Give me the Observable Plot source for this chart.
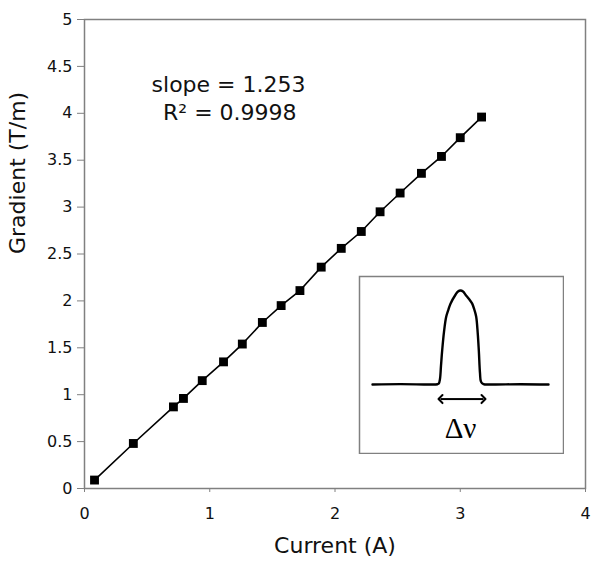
<!DOCTYPE html>
<html>
<head>
<meta charset="utf-8">
<script src="https://cdn.jsdelivr.net/npm/d3@7"></script>
<script src="https://cdn.jsdelivr.net/npm/@observablehq/plot@0.6"></script>
<style>
  html, body { margin: 0; padding: 0; background: #fff; }
  #wrap { position: relative; width: 600px; height: 573px; font-family: "DejaVu Sans", sans-serif; }
  #inset { position: absolute; left: 358px; top: 275px; }
  svg { background: #fff; }
</style>
</head>
<body>
<div id="wrap"><div id="main"></div><div id="inset"></div></div>
<script>
// Main data: current (A) vs gradient (T/m)
const current = [0.08, 0.39, 0.71, 0.79, 0.94, 1.11, 1.26, 1.42, 1.57, 1.72, 1.89, 2.05, 2.21, 2.36, 2.52, 2.69, 2.85, 3.00, 3.17];
const gradient = [0.09, 0.48, 0.87, 0.96, 1.15, 1.35, 1.54, 1.77, 1.95, 2.11, 2.36, 2.56, 2.74, 2.95, 3.15, 3.36, 3.54, 3.74, 3.96];

const xTicks = [0, 1, 2, 3, 4];
const yTicks = [0, 0.5, 1, 1.5, 2, 2.5, 3, 3.5, 4, 4.5, 5];
const xTitle = "Current (A)";
const yTitle = "Gradient (T/m)";
const annotLines = ["slope = 1.253", "R\u00B2 = 0.9998"];
const annotX = [1.15, 1.16];
const annotY = [4.3, 4.0];

// Inset: line shape (arbitrary frequency units vs normalized intensity)
const nu = [-8.8, -6, -3, -2.3, -2.17, -2.05, -1.95, -1.83, -1.65, -1.43, -1.2, -1.0, -0.5, -0.25, 0, 0.25, 0.5, 0.85, 1.17, 1.4, 1.57, 1.72, 1.83, 1.95, 2.05, 2.3, 3, 6, 8.8];
const intensity = [0, 0.004, 0, 0.003, 0.01, 0.06, 0.2, 0.365, 0.56, 0.72, 0.8, 0.86, 0.955, 0.99, 1.0, 0.99, 0.955, 0.91, 0.86, 0.79, 0.72, 0.55, 0.365, 0.12, 0.03, 0.004, 0, 0.003, 0];
const arrowNu = [-2.0, 2.3];
const arrowLevel = -0.155;
const widthLabel = "\u0394\u03BD";
const widthLabelLevel = -0.47;

const pts = current.map((c, i) => ({x: c, y: gradient[i]}));
const gray = "#808080";

const main = Plot.plot({
  width: 600,
  height: 573,
  marginLeft: 84,
  marginRight: 15,
  marginTop: 19,
  marginBottom: 85,
  style: {fontFamily: "DejaVu Sans, sans-serif", background: "#fff"},
  x: {domain: [0, 4]},
  y: {domain: [0, 5]},
  marks: [
    Plot.axisY({ticks: yTicks, tickFormat: d => String(d), tickSize: 7, tickPadding: 5, fontSize: 16, stroke: gray, fill: "#111", label: null}),
    Plot.axisX({ticks: xTicks, tickFormat: d => String(d), tickSize: 4, tickPadding: 15, fontSize: 16, stroke: gray, fill: "#111", label: null}),
    Plot.frame({stroke: gray, strokeWidth: 1.5}),
    Plot.line(pts, {x: "x", y: "y", stroke: "black", strokeWidth: 1.6}),
    Plot.dot(pts, {x: "x", y: "y", symbol: "square", r: 5, fill: "black", stroke: null}),
    Plot.text(annotLines, {x: (d, i) => annotX[i], y: (d, i) => annotY[i], text: d => d, fontSize: 22, fill: "#111", textAnchor: "middle", lineAnchor: "middle"}),
    Plot.text([xTitle], {frameAnchor: "bottom", dy: 57, fontSize: 22, fill: "#111", lineAnchor: "middle"}),
    Plot.text([yTitle], {frameAnchor: "left", dx: -67, rotate: -90, fontSize: 22, fill: "#111", lineAnchor: "middle"})
  ]
});
document.getElementById("main").appendChild(main);

const shape = nu.map((n, i) => ({nu: n, I: intensity[i]}));
const arrowCenter = (arrowNu[0] + arrowNu[1]) / 2;
const inset = Plot.plot({
  width: 206,
  height: 179,
  marginLeft: 14,
  marginRight: 16,
  marginTop: 15,
  marginBottom: 70,
  x: {domain: [-8.8, 8.8], axis: null},
  y: {domain: [0, 1], axis: null},
  style: {background: "#fff"},
  marks: [
    Plot.frame({stroke: gray, strokeWidth: 1.5, insetLeft: -13, insetRight: -15, insetTop: -14, insetBottom: -69}),
    Plot.line(shape, {x: "nu", y: "I", stroke: "black", strokeWidth: 2.4, curve: "catmull-rom"}),
    Plot.link(arrowNu, {x1: arrowCenter, x2: d => d, y1: arrowLevel, y2: arrowLevel, stroke: "black", strokeWidth: 2, markerEnd: "arrow"}),
    Plot.text([widthLabel], {x: 0, y: widthLabelLevel, text: d => d, fontSize: 29, fontFamily: "Liberation Serif, serif", fill: "black", lineAnchor: "middle"})
  ]
});
document.getElementById("inset").appendChild(inset);
</script>
</body>
</html>
